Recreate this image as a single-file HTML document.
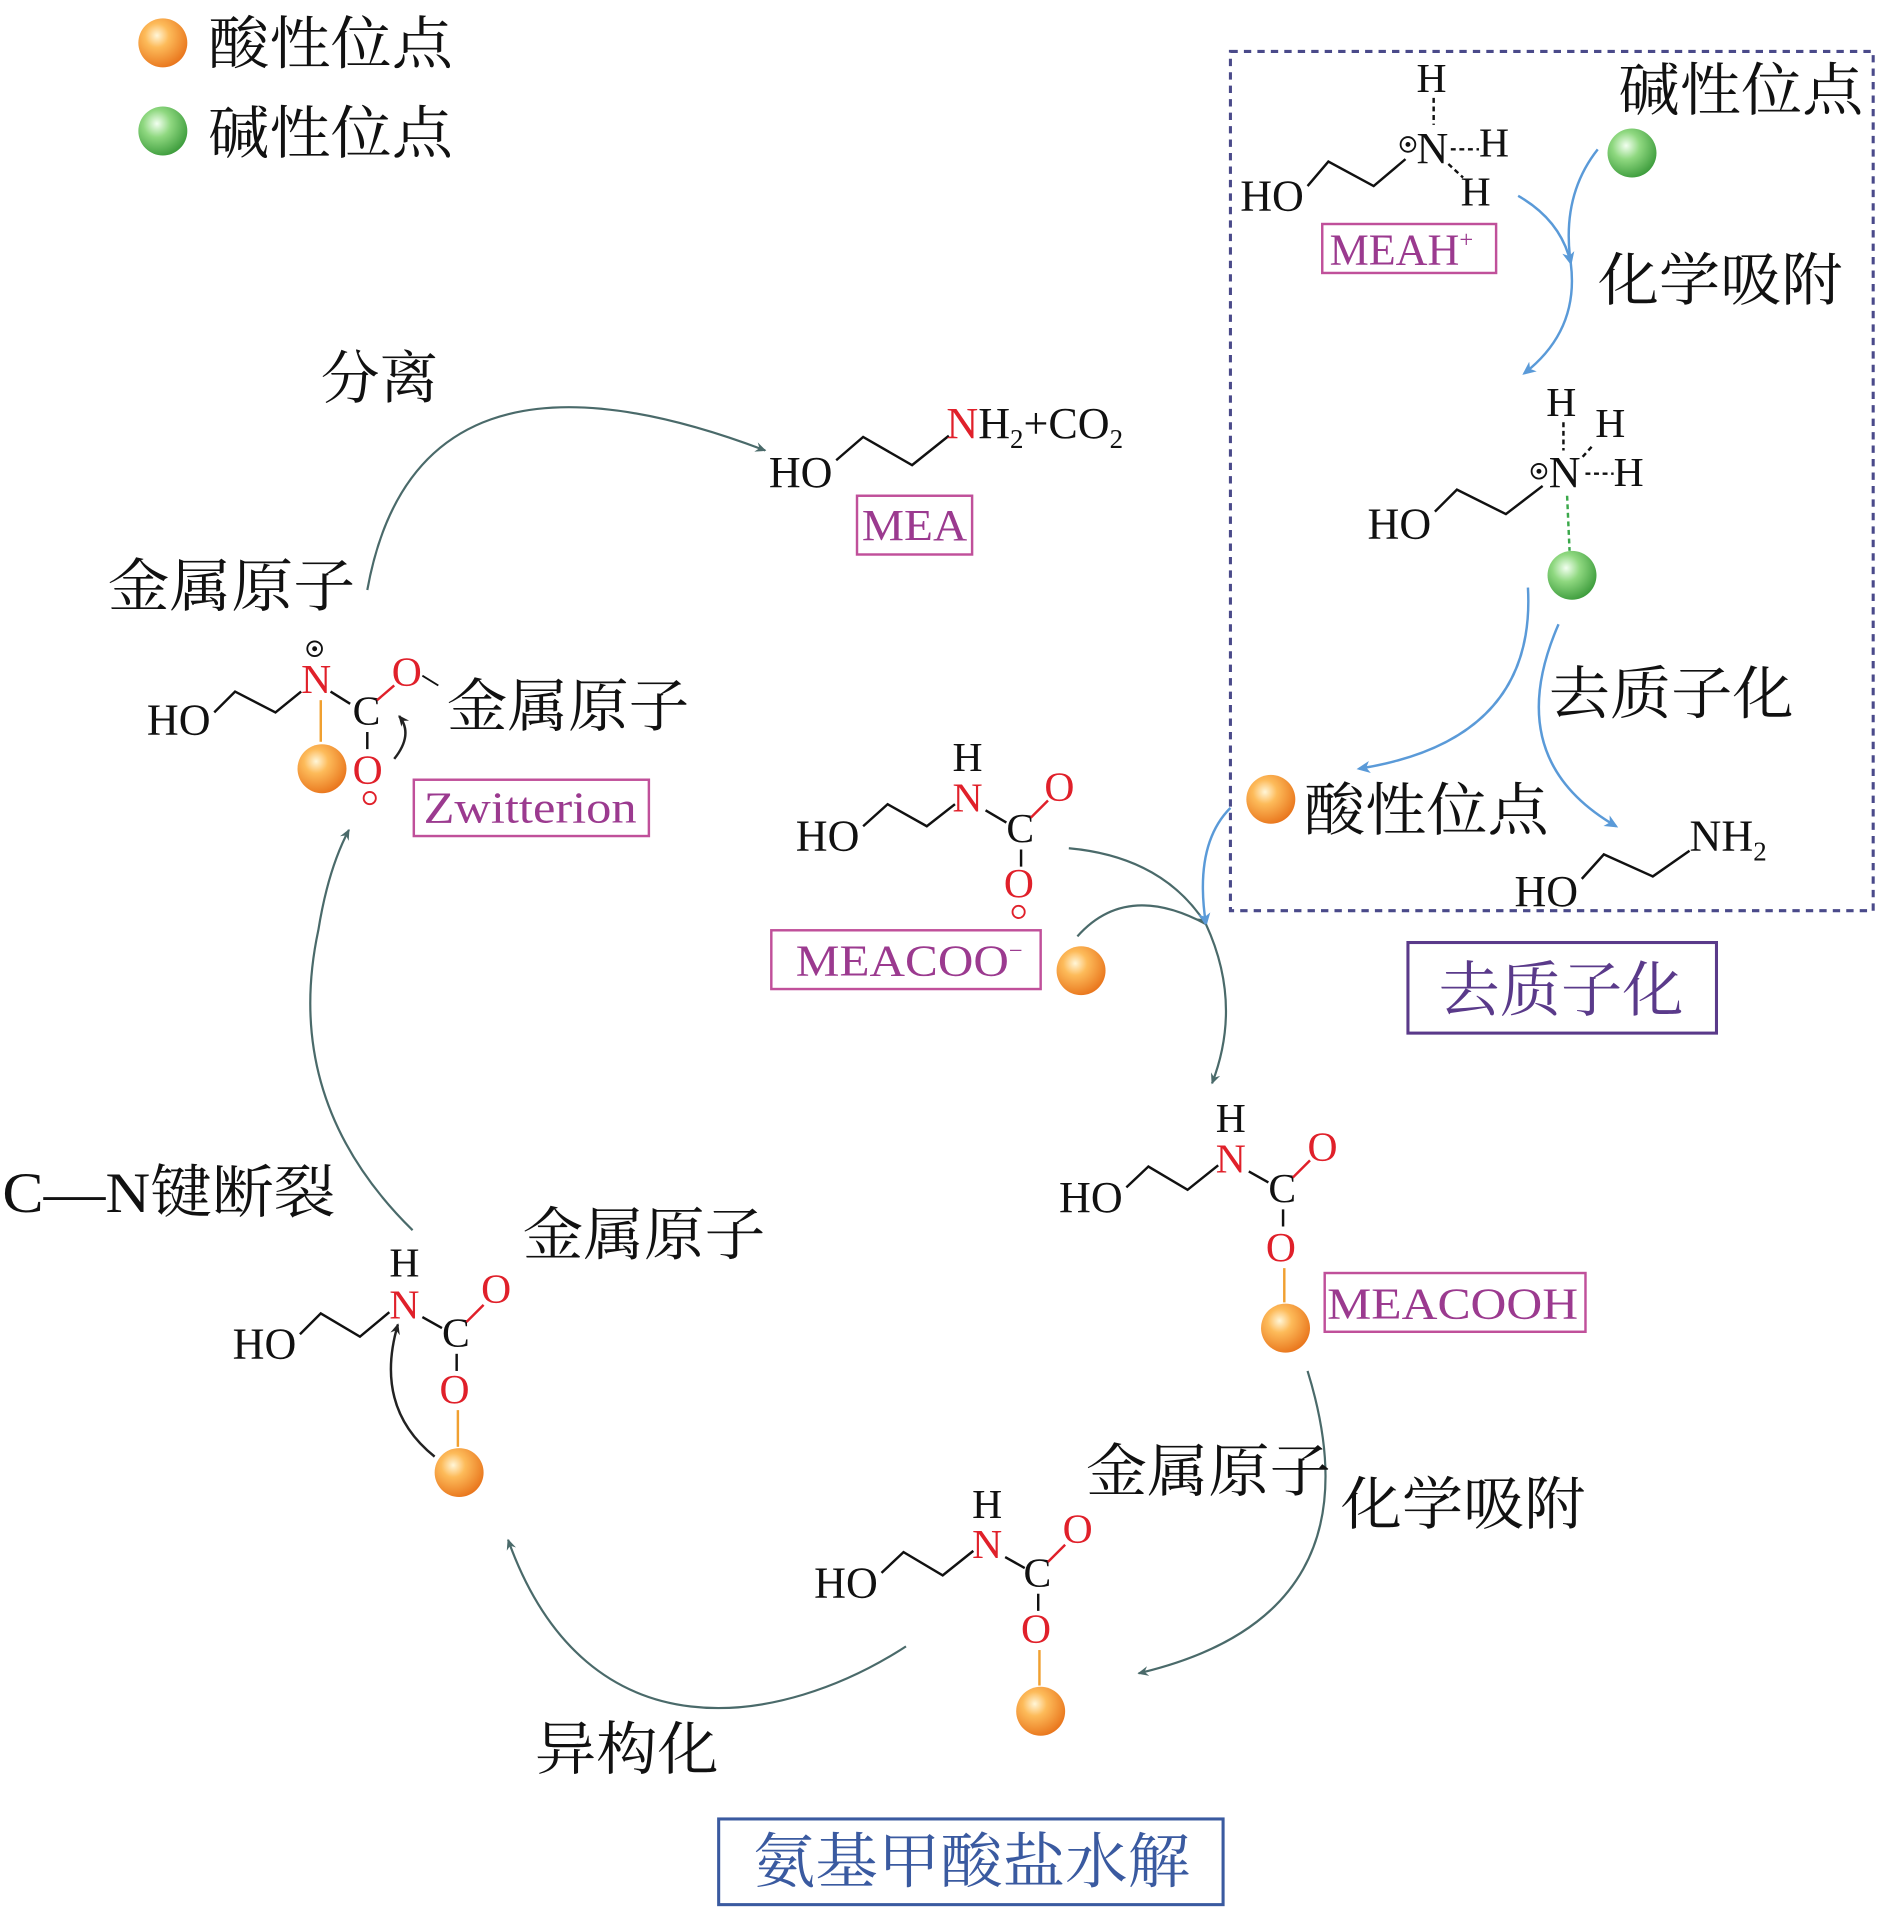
<!DOCTYPE html>
<html><head><meta charset="utf-8"><style>
html,body{margin:0;padding:0;background:#fff}
svg{display:block}
.c{font-family:"Liberation Serif","Noto Serif CJK SC",serif;fill:#111}
.z{font-family:"Liberation Serif","Noto Serif CJK SC","Noto Sans CJK SC",serif;fill:#111}
.r{fill:#e0202a}
.p{fill:#9b3a8f}
</style></head><body>
<svg width="1894" height="1923" viewBox="0 0 1547 1571" preserveAspectRatio="none" xmlns="http://www.w3.org/2000/svg">
<defs>
<radialGradient id="og" cx="0.38" cy="0.35" r="0.7"><stop offset="0" stop-color="#fff6d8"/><stop offset="0.35" stop-color="#fdbb5a"/><stop offset="1" stop-color="#e8731a"/></radialGradient>
<radialGradient id="gg" cx="0.38" cy="0.35" r="0.7"><stop offset="0" stop-color="#f2fff0"/><stop offset="0.4" stop-color="#8fd880"/><stop offset="1" stop-color="#3a9a3a"/></radialGradient>
<marker id="a" markerWidth="10" markerHeight="10" refX="8" refY="5" orient="auto" markerUnits="userSpaceOnUse"><path d="M0,1 L9,5 L0,9 L3,5z" fill="#4a6a6a"/></marker>
<marker id="ab" markerWidth="12" markerHeight="12" refX="9" refY="6" orient="auto" markerUnits="userSpaceOnUse"><path d="M0,1 L11,6 L0,11 L3,6z" fill="#5a9ad8"/></marker>
<marker id="ak" markerWidth="10" markerHeight="10" refX="8" refY="5" orient="auto" markerUnits="userSpaceOnUse"><path d="M0,1 L9,5 L0,9 L3,5z" fill="#222"/></marker>
</defs>

<circle cx="133" cy="35" r="20" fill="url(#og)"/>
<text x="170" y="52" class="z" font-size="47" textLength="200" lengthAdjust="spacingAndGlyphs">酸性位点</text>
<circle cx="133" cy="107" r="20" fill="url(#gg)"/>
<text x="170" y="125" class="z" font-size="47" textLength="200" lengthAdjust="spacingAndGlyphs">碱性位点</text>

<rect x="1005" y="42" width="525" height="702" fill="none" stroke="#4a4a8a" stroke-width="2.5" stroke-dasharray="6,5"/>

<text x="1013" y="172" class="c" font-size="36">HO</text>
<polyline points="1068,152 1085,132 1122,152 1148,130" fill="none" stroke="#111" stroke-width="2"/>
<text x="1157" y="75" class="c" font-size="34">H</text>
<line x1="1171" y1="80" x2="1171" y2="102" stroke="#111" stroke-width="2" stroke-dasharray="4,3"/>
<circle cx="1150" cy="118" r="6" fill="none" stroke="#111" stroke-width="1.5"/><circle cx="1150" cy="118" r="2" fill="#111"/>
<text x="1157" y="133" class="c" font-size="36">N</text>
<line x1="1185" y1="122" x2="1208" y2="122" stroke="#111" stroke-width="2" stroke-dasharray="4,3"/>
<text x="1208" y="128" class="c" font-size="34">H</text>
<line x1="1183" y1="134" x2="1195" y2="145" stroke="#111" stroke-width="2" stroke-dasharray="4,3"/>
<text x="1193" y="168" class="c" font-size="34">H</text>
<rect x="1080" y="183" width="142" height="40" fill="none" stroke="#c0509a" stroke-width="2"/>
<text x="1086" y="216" class="c p" font-size="36">MEAH<tspan font-size="20" dy="-14">+</tspan></text>
<text x="1322" y="90" class="z" font-size="47" textLength="200" lengthAdjust="spacingAndGlyphs">碱性位点</text>
<circle cx="1333" cy="125" r="20" fill="url(#gg)"/>
<path d="M1305,122 Q1275,160 1283,215" fill="none" stroke="#5a9ad8" stroke-width="2"/>
<path d="M1240,160 Q1275,180 1283,215" fill="none" stroke="#5a9ad8" stroke-width="2" marker-end="url(#ab)"/>
<path d="M1283,215 Q1290,270 1245,305" fill="none" stroke="#5a9ad8" stroke-width="2" marker-end="url(#ab)"/>
<text x="1305" y="245" class="z" font-size="47" textLength="200" lengthAdjust="spacingAndGlyphs">化学吸附</text>

<text x="1117" y="440" class="c" font-size="36">HO</text>
<polyline points="1172,418 1190,400 1230,420 1260,397" fill="none" stroke="#111" stroke-width="2"/>
<text x="1263" y="340" class="c" font-size="34">H</text>
<line x1="1277" y1="345" x2="1277" y2="368" stroke="#111" stroke-width="2" stroke-dasharray="4,3"/>
<text x="1303" y="357" class="c" font-size="34">H</text>
<line x1="1300" y1="365" x2="1292" y2="374" stroke="#111" stroke-width="2" stroke-dasharray="4,3"/>
<circle cx="1257" cy="385" r="6" fill="none" stroke="#111" stroke-width="1.5"/><circle cx="1257" cy="385" r="2" fill="#111"/>
<text x="1265" y="398" class="c" font-size="36">N</text>
<line x1="1295" y1="387" x2="1318" y2="387" stroke="#111" stroke-width="2" stroke-dasharray="4,3"/>
<text x="1318" y="397" class="c" font-size="34">H</text>
<line x1="1280" y1="405" x2="1282" y2="450" stroke="#3aa84a" stroke-width="2" stroke-dasharray="4,3"/>
<circle cx="1284" cy="470" r="20" fill="url(#gg)"/>
<path d="M1248,480 Q1255,605 1110,628" fill="none" stroke="#5a9ad8" stroke-width="2" marker-end="url(#ab)"/>
<path d="M1273,510 Q1225,620 1320,675" fill="none" stroke="#5a9ad8" stroke-width="2" marker-end="url(#ab)"/>
<text x="1265" y="583" class="z" font-size="47" textLength="200" lengthAdjust="spacingAndGlyphs">去质子化</text>
<circle cx="1038" cy="653" r="20" fill="url(#og)"/>
<text x="1065" y="678" class="z" font-size="47" textLength="200" lengthAdjust="spacingAndGlyphs">酸性位点</text>
<text x="1237" y="740" class="c" font-size="36">HO</text>
<polyline points="1292,718 1310,698 1350,716 1380,695" fill="none" stroke="#111" stroke-width="2"/>
<text x="1380" y="695" class="c" font-size="36">NH<tspan font-size="22" dy="8">2</tspan></text>
<rect x="1150" y="770" width="252" height="74" fill="none" stroke="#5a3a8a" stroke-width="2.5"/>
<text x="1175" y="826" class="z" font-size="49" style="fill:#5a3a8a" textLength="200" lengthAdjust="spacingAndGlyphs">去质子化</text>

<text x="628" y="398" class="c" font-size="36">HO</text>
<polyline points="683,376 705,357 745,380 775,356" fill="none" stroke="#111" stroke-width="2"/>
<text x="773" y="358" class="c" font-size="36"><tspan class="r">N</tspan>H<tspan font-size="22" dy="8">2</tspan><tspan dy="-8">+CO</tspan><tspan font-size="22" dy="8">2</tspan></text>
<rect x="700" y="405" width="94" height="48" fill="none" stroke="#c0509a" stroke-width="2"/>
<text x="704" y="441" class="c p" font-size="36" textLength="86" lengthAdjust="spacingAndGlyphs">MEA</text>
<text x="262" y="325" class="z" font-size="47" textLength="96" lengthAdjust="spacingAndGlyphs">分离</text>
<path d="M300,482 Q340,260 625,368" fill="none" stroke="#4a6a6a" stroke-width="1.8" marker-end="url(#a)"/>
<text x="88" y="495" class="z" font-size="47" textLength="202" lengthAdjust="spacingAndGlyphs">金属原子</text>

<text x="120" y="600" class="c" font-size="36">HO</text>
<polyline points="175,582 192,565 225,582 246,565" fill="none" stroke="#111" stroke-width="2"/>
<circle cx="257" cy="530" r="6" fill="none" stroke="#111" stroke-width="1.5"/><circle cx="257" cy="530" r="2" fill="#111"/>
<text x="246" y="566" class="c r" font-size="34">N</text>
<line x1="270" y1="565" x2="286" y2="575" stroke="#111" stroke-width="2"/>
<text x="288" y="592" class="c" font-size="34">C</text>
<line x1="308" y1="572" x2="322" y2="560" stroke="#e0202a" stroke-width="2"/>
<text x="320" y="560" class="c r" font-size="34">O</text>
<line x1="345" y1="552" x2="358" y2="560" stroke="#111" stroke-width="1.5"/>
<line x1="300" y1="598" x2="300" y2="612" stroke="#111" stroke-width="2"/>
<text x="288" y="640" class="c r" font-size="34">O</text>
<circle cx="302" cy="652" r="5" fill="none" stroke="#e0202a" stroke-width="1.5"/>
<line x1="262" y1="572" x2="262" y2="606" stroke="#f0a030" stroke-width="2"/>
<circle cx="263" cy="628" r="20" fill="url(#og)"/>
<path d="M322,620 Q338,600 326,585" fill="none" stroke="#222" stroke-width="2" marker-end="url(#ak)"/>
<text x="365" y="593" class="z" font-size="47" textLength="198" lengthAdjust="spacingAndGlyphs">金属原子</text>
<rect x="338" y="637" width="192" height="46" fill="none" stroke="#c0509a" stroke-width="2"/>
<text x="346" y="672" class="c p" font-size="36" textLength="174" lengthAdjust="spacingAndGlyphs">Zwitterion</text>

<text x="650" y="695" class="c" font-size="36">HO</text>
<polyline points="705,675 725,657 757,675 780,657" fill="none" stroke="#111" stroke-width="2"/>
<text x="778" y="630" class="c" font-size="34">H</text>
<text x="778" y="663" class="c r" font-size="34">N</text>
<line x1="805" y1="662" x2="822" y2="672" stroke="#111" stroke-width="2"/>
<text x="822" y="688" class="c" font-size="34">C</text>
<line x1="842" y1="668" x2="856" y2="654" stroke="#e0202a" stroke-width="2"/>
<text x="853" y="654" class="c r" font-size="34">O</text>
<line x1="834" y1="694" x2="834" y2="708" stroke="#111" stroke-width="2"/>
<text x="820" y="733" class="c r" font-size="34">O</text>
<circle cx="832" cy="745" r="5" fill="none" stroke="#e0202a" stroke-width="1.5"/>
<rect x="630" y="760" width="220" height="48" fill="none" stroke="#c0509a" stroke-width="2"/>
<text x="650" y="797" class="c p" font-size="36"><tspan textLength="174" lengthAdjust="spacingAndGlyphs">MEACOO</tspan><tspan font-size="20" dy="-14">−</tspan></text>
<circle cx="883" cy="793" r="20" fill="url(#og)"/>
<path d="M873,693 Q950,700 985,755" fill="none" stroke="#4a6a6a" stroke-width="1.8" marker-end="url(#a)"/>
<path d="M880,765 Q920,720 985,755" fill="none" stroke="#4a6a6a" stroke-width="1.8"/>
<path d="M1005,660 Q975,690 985,755" fill="none" stroke="#5a9ad8" stroke-width="2" marker-end="url(#ab)"/>
<path d="M985,755 Q1015,820 990,885" fill="none" stroke="#4a6a6a" stroke-width="1.8" marker-end="url(#a)"/>

<text x="865" y="990" class="c" font-size="36">HO</text>
<polyline points="920,970 938,953 970,972 995,952" fill="none" stroke="#111" stroke-width="2"/>
<text x="993" y="925" class="c" font-size="34">H</text>
<text x="993" y="958" class="c r" font-size="34">N</text>
<line x1="1020" y1="957" x2="1036" y2="966" stroke="#111" stroke-width="2"/>
<text x="1036" y="982" class="c" font-size="34">C</text>
<line x1="1056" y1="962" x2="1070" y2="948" stroke="#e0202a" stroke-width="2"/>
<text x="1068" y="948" class="c r" font-size="34">O</text>
<line x1="1048" y1="988" x2="1048" y2="1002" stroke="#111" stroke-width="2"/>
<text x="1034" y="1030" class="c r" font-size="34">O</text>
<line x1="1049" y1="1036" x2="1049" y2="1064" stroke="#f0a030" stroke-width="2"/>
<circle cx="1050" cy="1085" r="20" fill="url(#og)"/>
<rect x="1082" y="1040" width="213" height="48" fill="none" stroke="#c0509a" stroke-width="2"/>
<text x="1084" y="1077" class="c p" font-size="36" textLength="205" lengthAdjust="spacingAndGlyphs">MEACOOH</text>
<path d="M1068,1120 Q1130,1320 930,1367" fill="none" stroke="#4a6a6a" stroke-width="1.8" marker-end="url(#a)"/>
<text x="1095" y="1245" class="z" font-size="47" textLength="200" lengthAdjust="spacingAndGlyphs">化学吸附</text>

<text x="665" y="1305" class="c" font-size="36">HO</text>
<polyline points="720,1285 738,1268 770,1287 795,1267" fill="none" stroke="#111" stroke-width="2"/>
<text x="794" y="1240" class="c" font-size="34">H</text>
<text x="794" y="1273" class="c r" font-size="34">N</text>
<line x1="821" y1="1272" x2="837" y2="1281" stroke="#111" stroke-width="2"/>
<text x="836" y="1296" class="c" font-size="34">C</text>
<line x1="856" y1="1276" x2="870" y2="1262" stroke="#e0202a" stroke-width="2"/>
<text x="868" y="1260" class="c r" font-size="34">O</text>
<line x1="848" y1="1302" x2="848" y2="1316" stroke="#111" stroke-width="2"/>
<text x="834" y="1342" class="c r" font-size="34">O</text>
<line x1="849" y1="1348" x2="849" y2="1377" stroke="#f0a030" stroke-width="2"/>
<circle cx="850" cy="1398" r="20" fill="url(#og)"/>
<text x="887" y="1218" class="z" font-size="47" textLength="200" lengthAdjust="spacingAndGlyphs">金属原子</text>
<path d="M740,1345 C640,1410 480,1440 415,1258" fill="none" stroke="#4a6a6a" stroke-width="1.8" marker-end="url(#a)"/>
<text x="437" y="1445" class="z" font-size="47" textLength="150" lengthAdjust="spacingAndGlyphs">异构化</text>

<text x="190" y="1110" class="c" font-size="36">HO</text>
<polyline points="245,1090 262,1073 294,1092 318,1072" fill="none" stroke="#111" stroke-width="2"/>
<text x="318" y="1043" class="c" font-size="34">H</text>
<text x="318" y="1077" class="c r" font-size="34">N</text>
<line x1="345" y1="1076" x2="361" y2="1085" stroke="#111" stroke-width="2"/>
<text x="361" y="1100" class="c" font-size="34">C</text>
<line x1="381" y1="1080" x2="395" y2="1066" stroke="#e0202a" stroke-width="2"/>
<text x="393" y="1064" class="c r" font-size="34">O</text>
<line x1="373" y1="1106" x2="373" y2="1120" stroke="#111" stroke-width="2"/>
<text x="359" y="1146" class="c r" font-size="34">O</text>
<line x1="374" y1="1152" x2="374" y2="1182" stroke="#f0a030" stroke-width="2"/>
<circle cx="375" cy="1203" r="20" fill="url(#og)"/>
<path d="M355,1190 Q305,1150 325,1082" fill="none" stroke="#222" stroke-width="2" marker-end="url(#ak)"/>
<text x="427" y="1025" class="z" font-size="47" textLength="198" lengthAdjust="spacingAndGlyphs">金属原子</text>
<text x="2" y="990" class="z" font-size="47" textLength="272" lengthAdjust="spacingAndGlyphs">C—N键断裂</text>
<path d="M337,1005 Q230,900 260,760 Q268,710 285,678" fill="none" stroke="#4a6a6a" stroke-width="1.8" marker-end="url(#a)"/>

<rect x="587" y="1486" width="412" height="70" fill="none" stroke="#3a5aa0" stroke-width="2.5"/>
<text x="615" y="1538" class="z" font-size="49" style="fill:#3a5aa0" textLength="357" lengthAdjust="spacingAndGlyphs">氨基甲酸盐水解</text>
</svg>
</body></html>
